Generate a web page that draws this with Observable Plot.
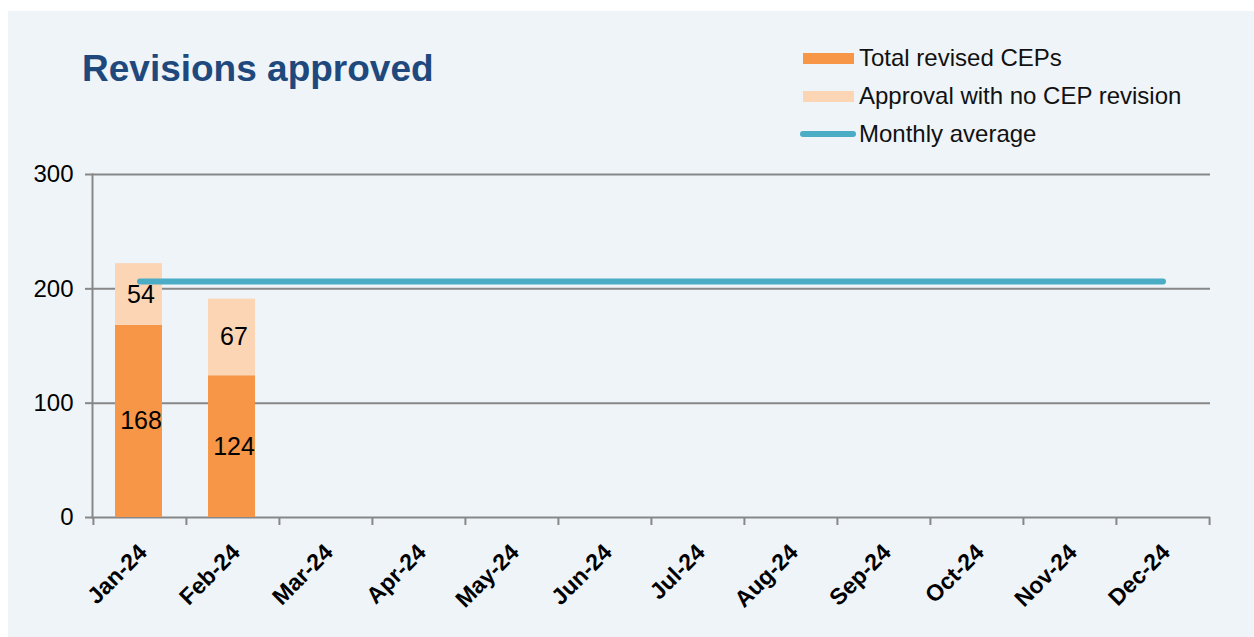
<!DOCTYPE html>
<html>
<head>
<meta charset="utf-8">
<script src="https://cdn.jsdelivr.net/npm/d3@7"></script>
<script src="https://cdn.jsdelivr.net/npm/@observablehq/plot@0.6"></script>
<style>
  html, body { margin: 0; padding: 0; background: #ffffff; }
  #page { position: relative; width: 1254px; height: 637px; overflow: hidden; background: #ffffff;
          font-family: "Liberation Sans", Arial, sans-serif; }
  #panel { position: absolute; left: 8px; top: 11px; right: 0; bottom: 0; background: #eff4f8; }
  #chart { position: absolute; left: 0; top: 0; }
  #title { position: absolute; left: 82px; top: 50px; font-size: 37px; font-weight: bold; color: #1f497d;
           white-space: nowrap; line-height: 1; }
  .leg { position: absolute; left: 800px; height: 30px; display: flex; align-items: center; white-space: nowrap;
         font-size: 24px; color: #111; }
  .sw { width: 51px; height: 11px; margin-left: 3px; margin-right: 5px; }
  .swl { width: 56px; height: 6px; border-radius: 3px; margin-right: 3px; }
</style>
</head>
<body>
<div id="page">
  <div id="panel"></div>
  <div id="chart"></div>
  <div id="title"></div>
  <div id="legend"></div>
</div>
<script>
const titleText = "Revisions approved";
const months = ["Jan-24","Feb-24","Mar-24","Apr-24","May-24","Jun-24","Jul-24","Aug-24","Sep-24","Oct-24","Nov-24","Dec-24"];
const seriesNames = ["Total revised CEPs", "Approval with no CEP revision", "Monthly average"];
const seriesColors = ["#f79646", "#fcd5b5", "#4bacc6"];
const totalRevised = [168, 124];
const approvalNoRevision = [54, 67];
const monthlyAverage = [206.5, 206.5, 206.5, 206.5, 206.5, 206.5, 206.5, 206.5, 206.5, 206.5, 206.5, 206.5];
const yTicks = [0, 100, 200, 300];

const W = 1254, H = 637;
const mL = 92, mR = 44, mT = 174, mB = 120;
const bw = (W - mL - mR) / months.length;
const grid = "#878787";

const stackData = [];
totalRevised.forEach((v, i) => stackData.push({month: months[i], series: seriesNames[0], value: v}));
approvalNoRevision.forEach((v, i) => stackData.push({month: months[i], series: seriesNames[1], value: v}));
const avgData = monthlyAverage.map((v, i) => ({month: months[i], value: v}));

const chart = Plot.plot({
  width: W, height: H,
  marginLeft: mL, marginRight: mR, marginTop: mT, marginBottom: mB,
  style: {background: "transparent", fontFamily: "'Liberation Sans', Arial, sans-serif", color: "#000"},
  x: {type: "band", domain: months, padding: 0, axis: null},
  y: {domain: [0, 300], axis: null},
  color: {domain: seriesNames.slice(0, 2), range: seriesColors.slice(0, 2)},
  marks: [
    Plot.ruleY(yTicks, {stroke: grid, strokeWidth: 2}),
    Plot.axisY({ticks: yTicks, tickSize: 7, tickPadding: 12, fontSize: 24, stroke: grid, strokeWidth: 2, fill: "#000", label: null}),
    Plot.frame({anchor: "left", stroke: grid, strokeWidth: 2}),
    Plot.ruleX(months, {x: d => d, y1: 0, y2: -7, dx: -bw / 2, stroke: grid, strokeWidth: 2}),
    Plot.ruleX(months.slice(-1), {x: d => d, y1: 0, y2: -7, dx: bw / 2, stroke: grid, strokeWidth: 2}),
    Plot.barY(stackData, {x: "month", y: "value", fill: "series", insetLeft: 22, insetRight: 24}),
    Plot.text(stackData, Plot.stackY({x: "month", y: "value", z: "series", text: d => String(d.value),
      fontSize: 25, fill: "#000", dx: 1})),
    Plot.lineY(avgData, {x: "month", y: "value", stroke: seriesColors[2], strokeWidth: 6, strokeLinecap: "round"}),
    Plot.text(months, {x: d => d, y: 0, text: d => d, rotate: -45, textAnchor: "end",
      fontWeight: "bold", fontSize: 23, fill: "#000", dx: 3, dy: 31})
  ]
});
document.getElementById("chart").appendChild(chart);
document.getElementById("title").textContent = titleText;

const legend = document.getElementById("legend");
const legTops = [43, 81, 119];
seriesNames.forEach((name, i) => {
  const row = document.createElement("div");
  row.className = "leg";
  row.style.top = legTops[i] + "px";
  const sw = document.createElement("div");
  sw.className = i < 2 ? "sw" : "swl";
  sw.style.background = seriesColors[i];
  row.appendChild(sw);
  const t = document.createElement("span");
  t.textContent = name;
  row.appendChild(t);
  legend.appendChild(row);
});
</script>
</body>
</html>
